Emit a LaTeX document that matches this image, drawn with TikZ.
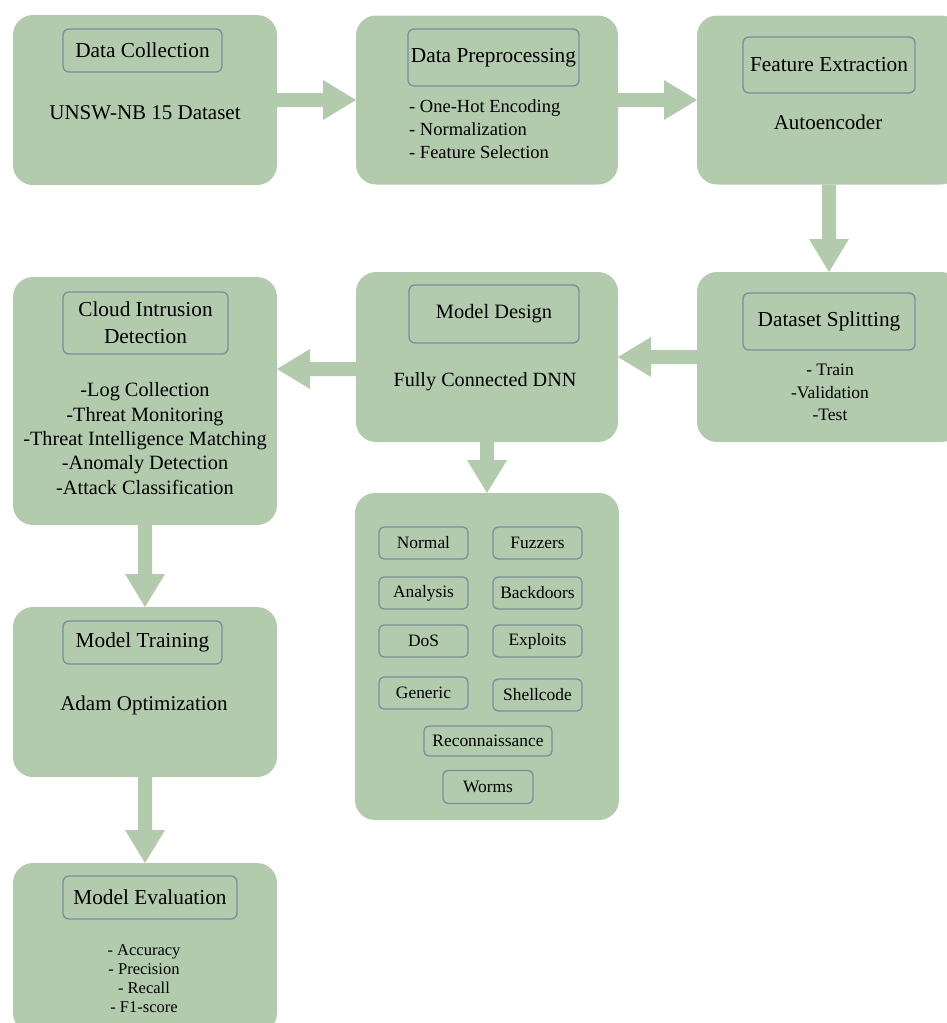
\documentclass[tikz,border=0pt]{standalone}
\usepackage{fontspec}
\setmainfont{Liberation Serif}
\usetikzlibrary{calc}
\definecolor{sage}{RGB}{179,203,173}
\definecolor{edgeblue}{RGB}{125,140,165}
\tikzset{
 bigbox/.style={fill=sage, rounded corners=20pt, inner sep=0pt, outer sep=0pt},
 titlebox/.style={draw=edgeblue, line width=1.3pt, rounded corners=6pt, inner sep=0pt, outer sep=0pt, font=\fontsize{21.3}{27}\selectfont, align=center},
 catbox/.style={draw=edgeblue, line width=1.3pt, rounded corners=5pt, inner sep=0pt, minimum width=89pt, minimum height=32pt, font=\fontsize{17.4}{20}\selectfont},
 subtext/.style={font=\fontsize{21}{25}\selectfont, inner sep=0pt},
 listtext/.style={inner sep=0pt, align=center},
 arr/.style={fill=sage},
}
\newcommand\arrR[2]{\fill[arr] ($(#1)+(0,-7)$) -- ($(#2)+(-33,-7)$) -- ($(#2)+(-33,-20)$) -- (#2) -- ($(#2)+(-33,20)$) -- ($(#2)+(-33,7)$) -- ($(#1)+(0,7)$) -- cycle;}
\newcommand\arrL[2]{\fill[arr] ($(#1)+(0,-7)$) -- ($(#2)+(33,-7)$) -- ($(#2)+(33,-20)$) -- (#2) -- ($(#2)+(33,20)$) -- ($(#2)+(33,7)$) -- ($(#1)+(0,7)$) -- cycle;}
\newcommand\arrD[2]{\fill[arr] ($(#1)+(-7,0)$) -- ($(#2)+(-7,-33)$) -- ($(#2)+(-20,-33)$) -- (#2) -- ($(#2)+(20,-33)$) -- ($(#2)+(7,-33)$) -- ($(#1)+(7,0)$) -- cycle;}
\begin{document}
\begin{tikzpicture}[x=1pt,y=-1pt]
\clip (0,0) rectangle (947,1023);
% main boxes
\node[bigbox, minimum width=264pt, minimum height=170pt] (dc) at (145,100) {};
\node[bigbox, minimum width=262pt, minimum height=169pt] (dp) at (487,100) {};
\node[bigbox, minimum width=264pt, minimum height=169pt] (fe) at (829,100) {};
\node[bigbox, minimum width=264pt, minimum height=170pt] (ds) at (829,357) {};
\node[bigbox, minimum width=262pt, minimum height=170pt] (md) at (487,357) {};
\node[bigbox, minimum width=264pt, minimum height=248pt] (cid) at (145,401) {};
\node[bigbox, minimum width=264pt, minimum height=327pt] (cat) at (487,656.5) {};
\node[bigbox, minimum width=264pt, minimum height=170pt] (mt) at (145,692) {};
\node[bigbox, minimum width=264pt, minimum height=170pt] (me) at (145,948) {};
% titles
\node[titlebox, minimum width=159pt, minimum height=43pt] (dct) at (142.5,50.5) {Data Collection};
\node[titlebox, minimum width=171pt, minimum height=57pt] (dpt) at (493.5,57.5) {Data Preprocessing};
\node[titlebox, minimum width=172pt, minimum height=56pt] (fet) at (829,65) {Feature Extraction};
\node[titlebox, minimum width=172pt, minimum height=57pt] (dst) at (829,321.5) {Dataset Splitting};
\node[titlebox, minimum width=170pt, minimum height=58pt, font=\fontsize{20.4}{25}\selectfont] (mdt) at (494,314) {Model Design};
\node[titlebox, minimum width=165pt, minimum height=62pt] (cidt) at (145.5,323) {Cloud Intrusion\\Detection};
\node[titlebox, minimum width=159pt, minimum height=43pt] (mtt) at (142.5,642.5) {Model Training};
\node[titlebox, minimum width=174pt, minimum height=43pt] (met) at (150,897.5) {Model Evaluation};
% contents
\node[subtext] (dcs) at (145,113) {UNSW-NB 15 Dataset};
\node[listtext, anchor=west, align=left, font=\fontsize{18.5}{23}\selectfont] (dpl) at (409,129) {- One-Hot Encoding\\- Normalization\\- Feature Selection};
\node[subtext] (fes) at (828,122) {Autoencoder};
\node[listtext, font=\fontsize{17.5}{22.5}\selectfont] (dsl) at (830,392.5) {- Train\\-Validation\\-Test};
\node[subtext, font=\fontsize{20.2}{24}\selectfont] (mds) at (485,382) {Fully Connected DNN};
\node[listtext, font=\fontsize{20.3}{24.3}\selectfont] (cidl) at (145,438.5) {-Log Collection\\-Threat Monitoring\\-Threat Intelligence Matching\\-Anomaly Detection\\-Attack Classification};
\node[subtext] (mts) at (144,705) {Adam Optimization};
\node[listtext, font=\fontsize{16.5}{19}\selectfont] (mel) at (144,979) {- Accuracy\\- Precision\\- Recall\\- F1-score};
% categories
\node[catbox] (c1) at (423.5,543) {Normal};
\node[catbox] (c2) at (537.5,543) {Fuzzers};
\node[catbox] (c3) at (423.5,593) {Analysis};
\node[catbox] (c4) at (537.5,593) {Backdoors};
\node[catbox] (c5) at (423.5,641) {DoS};
\node[catbox] (c6) at (537.5,641) {Exploits};
\node[catbox] (c7) at (423.5,693) {Generic};
\node[catbox] (c8) at (537.5,695) {Shellcode};
\node[catbox, minimum width=128pt, minimum height=30pt] (c9) at (488,741) {Reconnaissance};
\node[catbox, minimum width=90pt, minimum height=33pt] (c10) at (488,787) {Worms};
% arrows
\arrR{dc.east}{dp.west}
\arrR{dp.east}{fe.west}
\arrD{fe.south}{ds.north}
\arrL{ds.west}{md.east}
\coordinate (mdL) at ([yshift=-12pt]md.west);
\coordinate (cidR) at ([yshift=32pt]cid.east);
\arrL{mdL}{cidR}
\arrD{md.south}{cat.north}
\arrD{cid.south}{mt.north}
\arrD{mt.south}{me.north}
\end{tikzpicture}
\end{document}
